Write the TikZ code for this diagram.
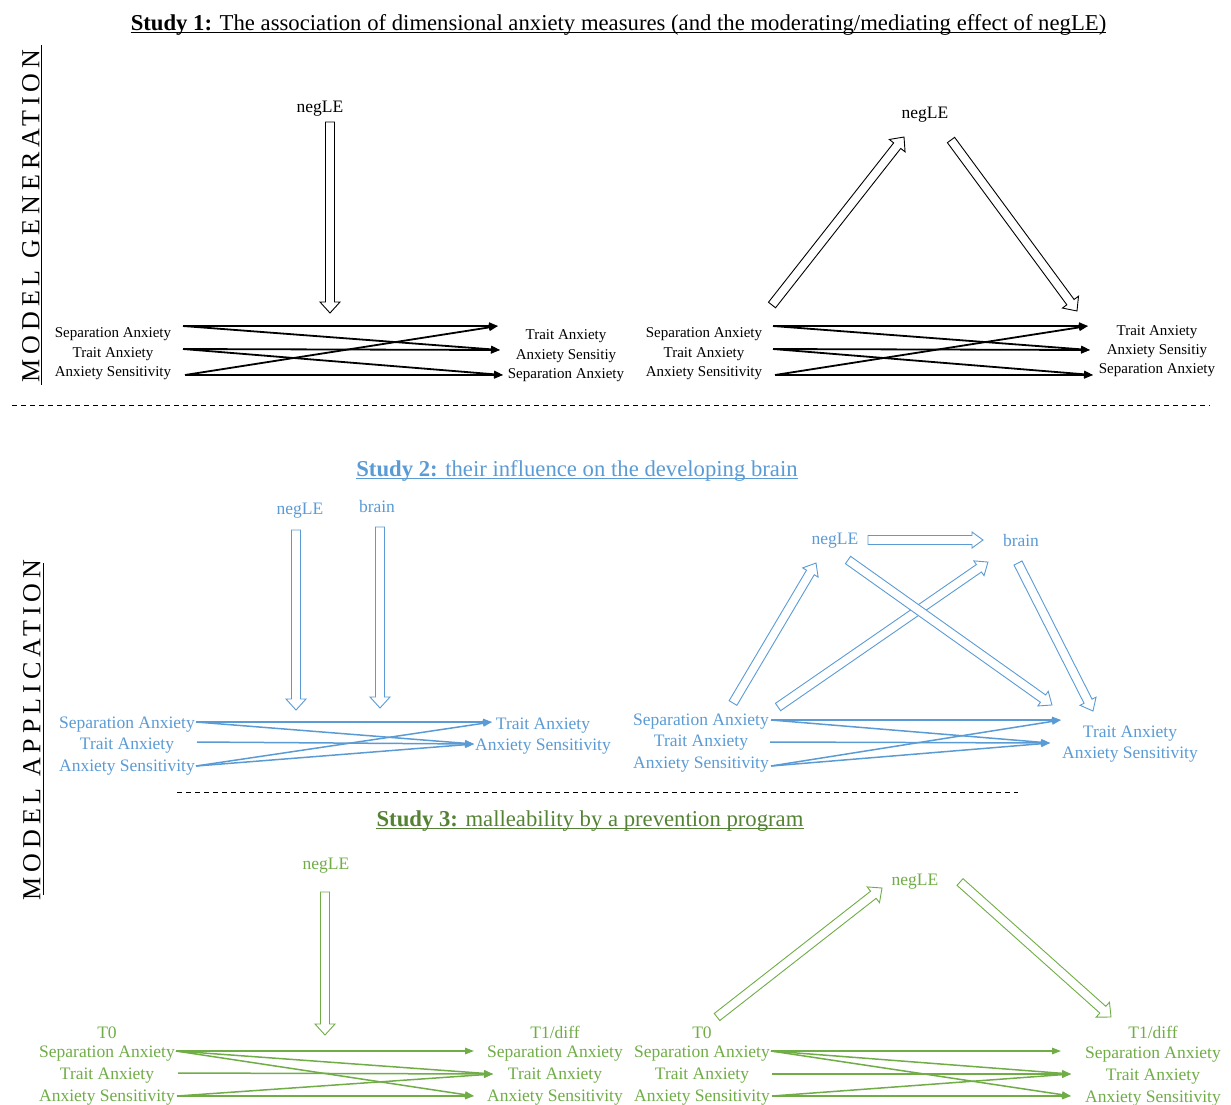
\documentclass[tikz,border=0pt]{standalone}
\usepackage{fontspec}
\setmainfont{Liberation Serif}
\newfontfamily\vfont[LetterSpace=19]{Liberation Serif}
\usetikzlibrary{arrows.meta,calc}
\definecolor{myblue}{HTML}{5B9BD5}
\definecolor{mygreen}{HTML}{70AD47}
\definecolor{dkgreen}{HTML}{548235}
\newcommand\HAsw{4.5}
\newcommand\HAhw{10}
\newcommand\HAhl{11}
\newcommand\hollowarrow[3][black]{%
  \pgfpointdiff{\pgfpointanchor{#2}{center}}{\pgfpointanchor{#3}{center}}%
  \pgfgetlastxy{\HAdx}{\HAdy}%
  \pgfmathsetmacro\HAlen{veclen(\HAdx,\HAdy)}%
  \pgfmathsetmacro\HAang{atan2(\HAdy,\HAdx)}%
  \begin{scope}[shift={(#2)},rotate=\HAang]
    \draw[hollow,draw=#1] (0,-\HAsw) -- ({\HAlen-\HAhl},-\HAsw) -- ({\HAlen-\HAhl},-\HAhw) -- (\HAlen,0) -- ({\HAlen-\HAhl},\HAhw) -- ({\HAlen-\HAhl},\HAsw) -- (0,\HAsw) -- cycle;
  \end{scope}}
\begin{document}
\begin{tikzpicture}[x=1pt,y=-1pt,
  hollow/.style={line width=0.9pt,fill=white,line join=miter},
  txt/.style={inner sep=0pt,anchor=center,yshift=-2.5pt},
  sA/.style={txt,font=\fontsize{15}{17}\selectfont},
  sB/.style={txt,font=\fontsize{17.5}{20}\selectfont},
  ttl/.style={inner sep=0pt,anchor=base,font=\fontsize{22.7}{26}\selectfont},
  vert/.style={inner sep=0pt,anchor=center,rotate=90,font=\vfont\fontsize{26}{28}\selectfont},
  uln/.style={line width=1.2pt},
  blk/.style={line width=1.8pt,-{Triangle[length=9pt,width=7pt]}},
  blu/.style={myblue,line width=1.5pt,-{Triangle[length=9pt,width=6.5pt]}},
  grn/.style={mygreen,line width=1.5pt,-{Triangle[length=9pt,width=6.5pt]}},
  sep/.style={line width=0.9pt,dash pattern=on 5pt off 4pt}]
\useasboundingbox (0,0) rectangle (1231,1104);

% ---------- side labels ----------
\node[vert] (gen) at (31,216) {MODEL GENERATION};
\node[vert] (app) at (32,730) {MODEL APPLICATION};
\coordinate (gu1) at (41,45); \coordinate (gu2) at (41,385);
\coordinate (au1) at (43,563); \coordinate (au2) at (43,895);
\draw[line width=1pt] (gu1) -- (gu2);
\draw[line width=1pt] (au1) -- (au2);

% ---------- Study 1 ----------
\node[ttl] (t1) at (618.5,30) {\textbf{Study 1:} The association of dimensional anxiety measures (and the moderating/mediating effect of negLE)};
\draw[uln] ([yshift=-2.5pt]t1.base west) -- ([yshift=-2.5pt]t1.base east);

\node[sB] (s1neg) at (320,106) {negLE};
\node[sA] (s1la) at (113,332) {Separation Anxiety};
\node[sA] (s1lb) at (113,352) {Trait Anxiety};
\node[sA] (s1lc) at (113,371) {Anxiety Sensitivity};
\node[sA] (s1ra) at (566,334) {Trait Anxiety};
\node[sA] (s1rb) at (566,354) {Anxiety Sensitiy};
\node[sA] (s1rc) at (566,373) {Separation Anxiety};
\coordinate (p1a) at (183,326); \coordinate (p1b) at (183,349); \coordinate (p1c) at (185,375);
\coordinate (q1a) at (498,326); \coordinate (q1b) at (500,350); \coordinate (q1c) at (503,375);
\draw[blk] (p1a) -- (q1a); \draw[blk] (p1a) -- (q1b);
\draw[blk] (p1b) -- (q1b); \draw[blk] (p1b) -- (q1c);
\draw[blk] (p1c) -- (q1a); \draw[blk] (p1c) -- (q1c);
\coordinate (h1s) at (330,122); \coordinate (h1e) at (330,313);
\hollowarrow{h1s}{h1e}

\node[sB] (s1neg2) at (925,112) {negLE};
\node[sA] (s1la2) at (704,332) {Separation Anxiety};
\node[sA] (s1lb2) at (704,352) {Trait Anxiety};
\node[sA] (s1lc2) at (704,371) {Anxiety Sensitivity};
\node[sA] (s1ra2) at (1157,330) {Trait Anxiety};
\node[sA] (s1rb2) at (1157,349) {Anxiety Sensitiy};
\node[sA] (s1rc2) at (1157,368) {Separation Anxiety};
\coordinate (p2a) at (773,326); \coordinate (p2b) at (773,349); \coordinate (p2c) at (775,375);
\coordinate (q2a) at (1088,326); \coordinate (q2b) at (1090,350); \coordinate (q2c) at (1093,375);
\draw[blk] (p2a) -- (q2a); \draw[blk] (p2a) -- (q2b);
\draw[blk] (p2b) -- (q2b); \draw[blk] (p2b) -- (q2c);
\draw[blk] (p2c) -- (q2a); \draw[blk] (p2c) -- (q2c);
\coordinate (h2s) at (772,305); \coordinate (h2e) at (904,137);
\coordinate (h3s) at (951,140); \coordinate (h3e) at (1077,311);
\hollowarrow{h2s}{h2e}
\hollowarrow{h3s}{h3e}

\coordinate (d1a) at (12,405); \coordinate (d1b) at (1210,405);
\draw[sep] (d1a) -- (d1b);

% ---------- Study 2 ----------
\node[ttl,myblue] (t2) at (577,476) {\textbf{Study 2:} their influence on the developing brain};
\draw[uln,myblue] ([yshift=-2.5pt]t2.base west) -- ([yshift=-2.5pt]t2.base east);

\node[sB,myblue] (s2neg) at (300,508) {negLE};
\node[sB,myblue] (s2brain) at (377,504) {brain};
\node[sB,myblue] (s2la) at (127,722) {Separation Anxiety};
\node[sB,myblue] (s2lb) at (127,743) {Trait Anxiety};
\node[sB,myblue] (s2lc) at (127,765) {Anxiety Sensitivity};
\node[sB,myblue] (s2ra) at (543,723) {Trait Anxiety};
\node[sB,myblue] (s2rb) at (543,744) {Anxiety Sensitivity};
\coordinate (p3a) at (196,722); \coordinate (p3b) at (197,742); \coordinate (p3c) at (196,766);
\coordinate (q3a) at (492,722); \coordinate (q3b) at (474,744);
\draw[blu] (p3a) -- (q3a); \draw[blu] (p3a) -- (q3b);
\draw[blu] (p3b) -- (q3b);
\draw[blu] (p3c) -- (q3a); \draw[blu] (p3c) -- (q3b);
\coordinate (h4s) at (296,530); \coordinate (h4e) at (296,710);
\coordinate (h5s) at (380,527); \coordinate (h5e) at (380,708);
\hollowarrow[myblue]{h4s}{h4e}
\hollowarrow[myblue]{h5s}{h5e}

\node[sB,myblue] (s2neg2) at (835,538) {negLE};
\node[sB,myblue] (s2brain2) at (1021,538) {brain};
\node[sB,myblue] (s2la2) at (701,719) {Separation Anxiety};
\node[sB,myblue] (s2lb2) at (701,740) {Trait Anxiety};
\node[sB,myblue] (s2lc2) at (701,762) {Anxiety Sensitivity};
\node[sB,myblue] (s2ra2) at (1130,731) {Trait Anxiety};
\node[sB,myblue] (s2rb2) at (1130,752) {Anxiety Sensitivity};
\coordinate (p4a) at (771,720); \coordinate (p4b) at (770,742); \coordinate (p4c) at (771,766);
\coordinate (q4a) at (1061,720); \coordinate (q4b) at (1050,743);
\draw[blu] (p4a) -- (q4a); \draw[blu] (p4a) -- (q4b);
\draw[blu] (p4b) -- (q4b);
\draw[blu] (p4c) -- (q4a); \draw[blu] (p4c) -- (q4b);
\coordinate (h6s) at (868,540); \coordinate (h6e) at (983,540);
\coordinate (h7s) at (733,703); \coordinate (h7e) at (816,563);
\coordinate (h8s) at (778,707); \coordinate (h8e) at (988,562);
\coordinate (h9s) at (848,560); \coordinate (h9e) at (1052,705);
\coordinate (h10s) at (1018,563); \coordinate (h10e) at (1093,711);
\renewcommand\HAhw{8}
\hollowarrow[myblue]{h6s}{h6e}
\renewcommand\HAhw{9}
\hollowarrow[myblue]{h7s}{h7e}
\hollowarrow[myblue]{h8s}{h8e}
\hollowarrow[myblue]{h9s}{h9e}
\hollowarrow[myblue]{h10s}{h10e}
\renewcommand\HAhw{10}

\coordinate (d2a) at (177,792); \coordinate (d2b) at (1018,792);
\draw[sep] (d2a) -- (d2b);

% ---------- Study 3 ----------
\node[ttl,dkgreen] (t3) at (590,826) {\textbf{Study 3:} malleability by a prevention program};
\draw[uln,dkgreen] ([yshift=-2.5pt]t3.base west) -- ([yshift=-2.5pt]t3.base east);

\node[sB,mygreen] (s3neg) at (326,863) {negLE};
\node[sB,mygreen] (s3t0) at (107,1030) {T0};
\node[sB,mygreen] (s3la) at (107,1051) {Separation Anxiety};
\node[sB,mygreen] (s3lb) at (107,1073) {Trait Anxiety};
\node[sB,mygreen] (s3lc) at (107,1095) {Anxiety Sensitivity};
\node[sB,mygreen] (s3t1) at (555,1030) {T1/diff};
\node[sB,mygreen] (s3ra) at (555,1051) {Separation Anxiety};
\node[sB,mygreen] (s3rb) at (555,1073) {Trait Anxiety};
\node[sB,mygreen] (s3rc) at (555,1095) {Anxiety Sensitivity};
\coordinate (p5a) at (176,1051); \coordinate (p5b) at (178,1073); \coordinate (p5c) at (177,1096);
\coordinate (q5a) at (474,1051); \coordinate (q5b) at (493,1074); \coordinate (q5c) at (474,1096);
\draw[grn] (p5a) -- (q5a); \draw[grn] (p5a) -- (q5b); \draw[grn] (p5a) -- (q5c);
\draw[grn] (p5b) -- (q5b);
\draw[grn] (p5c) -- (q5b); \draw[grn] (p5c) -- (q5c);
\coordinate (h11s) at (325,892); \coordinate (h11e) at (325,1035);
\hollowarrow[mygreen]{h11s}{h11e}

\node[sB,mygreen] (s3neg2) at (915,879) {negLE};
\node[sB,mygreen] (s3t02) at (702,1030) {T0};
\node[sB,mygreen] (s3la2) at (702,1051) {Separation Anxiety};
\node[sB,mygreen] (s3lb2) at (702,1073) {Trait Anxiety};
\node[sB,mygreen] (s3lc2) at (702,1095) {Anxiety Sensitivity};
\node[sB,mygreen] (s3t12) at (1153,1030) {T1/diff};
\node[sB,mygreen] (s3ra2) at (1153,1052) {Separation Anxiety};
\node[sB,mygreen] (s3rb2) at (1153,1074) {Trait Anxiety};
\node[sB,mygreen] (s3rc2) at (1153,1096) {Anxiety Sensitivity};
\coordinate (p6a) at (771,1051); \coordinate (p6b) at (772,1074); \coordinate (p6c) at (772,1096);
\coordinate (q6a) at (1061,1051); \coordinate (q6b) at (1071,1074); \coordinate (q6c) at (1071,1096);
\draw[grn] (p6a) -- (q6a); \draw[grn] (p6a) -- (q6b); \draw[grn] (p6a) -- (q6c);
\draw[grn] (p6b) -- (q6b);
\draw[grn] (p6c) -- (q6b); \draw[grn] (p6c) -- (q6c);
\coordinate (h12s) at (717,1017); \coordinate (h12e) at (882,888);
\coordinate (h13s) at (960,882); \coordinate (h13e) at (1111,1017);
\hollowarrow[mygreen]{h12s}{h12e}
\hollowarrow[mygreen]{h13s}{h13e}
\end{tikzpicture}
\end{document}
